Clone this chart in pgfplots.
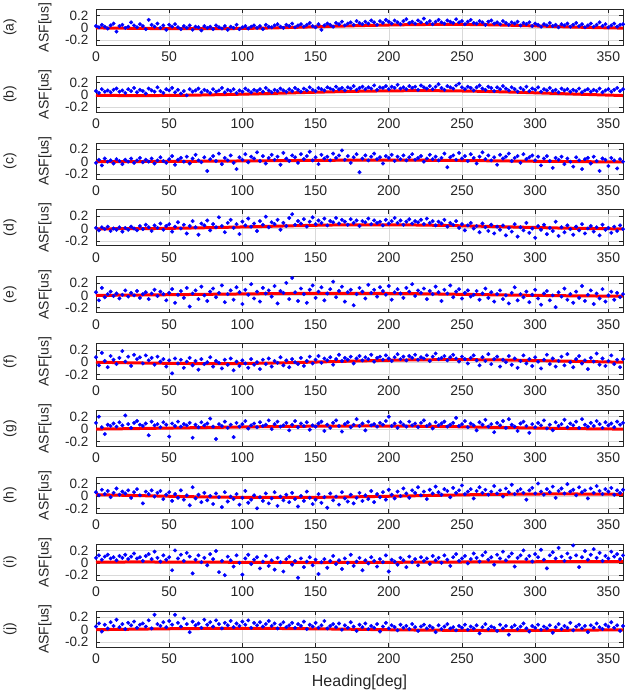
\documentclass[border=0pt]{standalone}
\usepackage{fontspec}
\setmainfont{Liberation Sans}
\usepackage{pgfplots}
\pgfplotsset{compat=1.18}
\pgfplotsset{
 panel/.style={
  scale only axis, width=527pt, height=36pt,
  xmin=0, xmax=360, ymin=-0.28, ymax=0.3,
  xtick={0,50,100,150,200,250,300,350},
  ytick={-0.2,0,0.2},
  grid=major, grid style={black!15, line width=0.5pt},
  tick align=inside, major tick length=4pt,
  axis line style={black!85, line width=0.8pt},
  every tick/.style={black!85, line width=0.6pt},
  /pgf/number format/assume math mode=true,
  ticklabel style={font=\fontsize{14}{16}\selectfont, text=black!85},
  yticklabel style={/pgf/number format/fixed, xshift=-4pt, inner ysep=0pt, font=\fontsize{13.5}{14}\selectfont},
  xticklabel style={yshift=-3pt},
  ylabel={ASF[us]},
  ylabel style={at={(axis description cs:-0.097,0.5)}, anchor=center, font=\fontsize{14}{16}\selectfont, text=black!85},
  extra description/.code={\node[rotate=90,font=\fontsize{14}{16}\selectfont,text=black!85] at (-0.163,0.5) {#1};}
 },
 dots/.style={only marks, mark=*, mark size=1.8pt, color=blue},
 fit/.style={red, line width=3pt, smooth}
}
\begin{document}
\begin{tikzpicture}
\useasboundingbox (0,0) rectangle (636pt,-696pt);
% (a)
\begin{axis}[panel={(a)}, at={(96pt,-45.3pt)}]
\addplot[dots] coordinates {(0,0.03)(2,0.01)(4,0.05)(6,0.02)(8,-0.01)(10,0.04)(12,0.07)(14,-0.06)(16,0.03)(18,0.05)(20,0.00)(22,0.02)(24,0.09)(26,0.04)(28,0.01)(30,0.06)(32,0.03)(34,-0.02)(36,0.13)(38,0.05)(40,0.02)(42,0.07)(44,0.00)(46,0.04)(48,-0.03)(50,0.05)(52,0.02)(54,0.06)(56,0.01)(58,-0.02)(60,0.03)(62,0.00)(64,0.04)(66,-0.03)(68,0.02)(70,0.01)(72,-0.04)(74,0.03)(76,0.00)(78,0.02)(80,-0.02)(82,0.04)(84,0.01)(86,-0.01)(88,0.03)(90,-0.03)(92,0.02)(94,0.00)(96,0.05)(98,-0.02)(100,0.01)(102,0.03)(104,-0.01)(106,0.02)(108,0.04)(110,0.00)(112,0.03)(114,-0.02)(116,0.05)(118,0.02)(120,0.01)(122,0.04)(124,0.06)(126,0.02)(128,0.00)(130,0.05)(132,0.03)(134,0.07)(136,0.01)(138,0.04)(140,0.06)(142,0.02)(144,0.05)(146,0.08)(148,0.03)(150,0.01)(152,0.06)(154,-0.03)(156,0.04)(158,0.07)(160,0.05)(162,0.02)(164,0.08)(166,0.06)(168,0.10)(170,0.04)(172,0.07)(174,0.09)(176,0.05)(178,0.11)(180,0.08)(182,0.06)(184,0.10)(186,0.07)(188,0.12)(190,0.09)(192,0.05)(194,0.11)(196,0.08)(198,0.13)(200,0.10)(202,0.07)(204,0.12)(206,0.09)(208,0.06)(210,0.11)(212,0.14)(214,0.08)(216,0.10)(218,0.07)(220,0.12)(222,0.09)(224,0.15)(226,0.08)(228,0.11)(230,0.06)(232,0.10)(234,0.13)(236,0.09)(238,0.07)(240,0.12)(242,0.10)(244,0.08)(246,0.14)(248,0.09)(250,0.11)(252,0.06)(254,0.10)(256,0.13)(258,0.08)(260,0.07)(262,0.11)(264,0.09)(266,0.05)(268,0.10)(270,0.12)(272,0.07)(274,0.09)(276,0.06)(278,0.11)(280,0.08)(282,0.05)(284,0.09)(286,0.07)(288,0.10)(290,0.04)(292,0.08)(294,0.06)(296,0.09)(298,0.03)(300,0.07)(302,0.05)(304,0.02)(306,0.06)(308,0.04)(310,0.08)(312,0.03)(314,0.05)(316,0.01)(318,0.06)(320,0.04)(322,0.07)(324,0.02)(326,0.05)(328,0.08)(330,0.03)(332,0.06)(334,0.01)(336,0.04)(338,0.07)(340,0.02)(342,0.05)(344,0.09)(346,0.03)(348,0.06)(350,0.01)(352,0.04)(354,0.07)(356,0.02)(358,0.05)(360,0.06)};
\addplot[fit] coordinates {(0,0.0)(20,-0.005)(40,-0.01)(60,-0.012)(80,-0.012)(100,-0.008)(120,0.0)(140,0.012)(160,0.025)(180,0.037)(200,0.047)(220,0.054)(240,0.057)(260,0.054)(280,0.045)(300,0.032)(320,0.018)(340,0.006)(360,-0.003)};
\end{axis}
% (b)
\begin{axis}[panel={(b)}, at={(96pt,-112.16pt)}]
\addplot[dots] coordinates {(0,0.06)(2,0.03)(4,0.09)(6,0.05)(8,0.07)(10,0.04)(12,0.08)(14,0.10)(16,0.05)(18,0.07)(20,0.03)(22,0.09)(24,0.06)(26,0.11)(28,0.04)(30,0.08)(32,0.06)(34,0.02)(36,0.10)(38,0.07)(40,0.05)(42,0.12)(44,0.06)(46,0.03)(48,0.09)(50,0.07)(52,0.11)(54,0.04)(56,0.08)(58,0.02)(60,0.06)(62,-0.01)(64,0.09)(66,0.05)(68,0.07)(70,0.10)(72,0.04)(74,0.08)(76,0.06)(78,0.03)(80,0.09)(82,0.05)(84,0.07)(86,0.11)(88,0.04)(90,0.08)(92,0.06)(94,0.09)(96,0.03)(98,0.07)(100,0.05)(102,0.10)(104,0.07)(106,0.04)(108,0.08)(110,0.06)(112,0.09)(114,0.05)(116,0.11)(118,0.07)(120,0.04)(122,0.08)(124,0.06)(126,0.10)(128,0.07)(130,0.05)(132,0.09)(134,0.06)(136,0.11)(138,0.08)(140,0.05)(142,0.10)(144,0.07)(146,0.12)(148,0.08)(150,0.06)(152,0.11)(154,0.09)(156,0.07)(158,0.12)(160,0.10)(162,0.08)(164,0.13)(166,0.09)(168,0.11)(170,0.07)(172,0.12)(174,0.10)(176,0.14)(178,0.08)(180,0.11)(182,0.13)(184,0.09)(186,0.12)(188,0.10)(190,0.15)(192,0.08)(194,0.12)(196,0.11)(198,0.14)(200,0.09)(202,0.13)(204,0.11)(206,0.16)(208,0.10)(210,0.12)(212,0.09)(214,0.14)(216,0.11)(218,0.13)(220,0.08)(222,0.15)(224,0.12)(226,0.10)(228,0.14)(230,0.09)(232,0.13)(234,0.17)(236,0.11)(238,0.08)(240,0.14)(242,0.12)(244,0.10)(246,0.15)(248,0.18)(250,0.12)(252,0.09)(254,0.13)(256,0.11)(258,0.07)(260,0.12)(262,0.15)(264,0.10)(266,0.08)(268,0.13)(270,0.11)(272,0.06)(274,0.12)(276,0.09)(278,0.14)(280,0.10)(282,0.07)(284,0.12)(286,0.09)(288,0.05)(290,0.11)(292,0.08)(294,0.13)(296,0.06)(298,0.10)(300,0.08)(302,0.12)(304,0.05)(306,0.09)(308,0.07)(310,0.11)(312,0.06)(314,0.08)(316,0.04)(318,0.10)(320,0.07)(322,0.09)(324,0.05)(326,0.08)(328,0.06)(330,0.10)(332,0.04)(334,0.07)(336,0.09)(338,0.05)(340,0.08)(342,0.06)(344,0.10)(346,0.04)(348,0.07)(350,0.09)(352,0.05)(354,0.08)(356,0.11)(358,0.06)(360,0.09)};
\addplot[fit] coordinates {(0,-0.01)(20,-0.012)(40,-0.012)(60,-0.008)(80,0.0)(100,0.01)(120,0.022)(140,0.035)(160,0.047)(180,0.057)(200,0.063)(220,0.066)(240,0.064)(260,0.057)(280,0.046)(300,0.032)(320,0.017)(340,0.002)(360,-0.012)};
\end{axis}
% (c)
\begin{axis}[panel={(c)}, at={(96pt,-179.02pt)}]
\addplot[dots] coordinates {(0,-0.02)(2,0.03)(4,-0.06)(6,0.05)(8,0.00)(10,0.02)(12,-0.03)(14,0.04)(16,0.01)(18,-0.04)(20,0.03)(22,0.00)(24,0.05)(26,-0.02)(28,0.02)(30,0.06)(32,-0.01)(34,0.03)(36,0.00)(38,0.05)(40,-0.03)(42,0.02)(44,0.07)(46,0.01)(48,-0.02)(50,0.04)(52,0.09)(54,-0.05)(56,0.03)(58,0.06)(60,0.00)(62,0.08)(64,-0.03)(66,0.05)(68,0.11)(70,0.02)(72,-0.01)(74,0.07)(76,-0.15)(78,0.04)(80,0.09)(82,0.01)(84,0.13)(86,-0.04)(88,0.06)(90,0.02)(92,0.10)(94,-0.02)(96,-0.12)(98,0.07)(100,0.03)(102,0.12)(104,-0.01)(106,0.08)(108,0.05)(110,0.15)(112,0.01)(114,0.09)(116,-0.03)(118,0.06)(120,0.11)(122,0.03)(124,0.08)(126,-0.05)(128,0.14)(130,0.05)(132,0.01)(134,0.10)(136,0.07)(138,-0.02)(140,0.12)(142,0.04)(144,0.09)(146,0.16)(148,0.02)(150,0.07)(152,-0.04)(154,0.11)(156,0.05)(158,0.08)(160,0.02)(162,0.13)(164,0.06)(166,0.10)(168,0.18)(170,0.03)(172,0.09)(174,-0.02)(176,0.07)(178,0.12)(180,-0.17)(182,0.05)(184,0.10)(186,0.02)(188,0.08)(190,0.13)(192,0.04)(194,0.07)(196,-0.03)(198,0.09)(200,0.06)(202,0.11)(204,0.01)(206,0.08)(208,0.04)(210,0.10)(212,0.02)(214,0.07)(216,0.12)(218,0.03)(220,0.06)(222,0.09)(224,0.00)(226,0.05)(228,0.11)(230,0.04)(232,0.08)(234,0.02)(236,0.06)(238,0.13)(240,-0.09)(242,0.07)(244,0.10)(246,0.03)(248,0.14)(250,0.05)(252,0.09)(254,0.01)(256,0.12)(258,0.06)(260,-0.03)(262,0.08)(264,0.15)(266,0.04)(268,0.10)(270,0.02)(272,0.07)(274,-0.05)(276,0.11)(278,0.05)(280,0.08)(282,0.13)(284,0.01)(286,0.06)(288,0.09)(290,-0.02)(292,0.12)(294,0.04)(296,0.07)(298,0.10)(300,0.02)(302,0.08)(304,-0.06)(306,0.05)(308,0.09)(310,0.01)(312,-0.10)(314,0.06)(316,0.03)(318,0.08)(320,-0.04)(322,0.05)(324,0.00)(326,-0.08)(328,0.07)(330,0.02)(332,-0.12)(334,0.04)(336,0.06)(338,-0.03)(340,0.08)(342,0.01)(344,-0.15)(346,0.05)(348,0.03)(350,-0.07)(352,0.06)(354,0.02)(356,-0.11)(358,0.04)(360,0.00)};
\addplot[fit] coordinates {(0,0.0)(20,0.001)(40,0.003)(60,0.005)(80,0.008)(100,0.011)(120,0.015)(140,0.019)(160,0.022)(180,0.024)(200,0.024)(220,0.023)(240,0.02)(260,0.016)(280,0.011)(300,0.006)(320,0.002)(340,-0.002)(360,-0.004)};
\end{axis}
% (d)
\begin{axis}[panel={(d)}, at={(96pt,-245.88pt)}]
\addplot[dots] coordinates {(0,0.01)(2,-0.03)(4,0.02)(6,-0.01)(8,0.03)(10,-0.04)(12,0.00)(14,-0.02)(16,0.02)(18,-0.05)(20,0.01)(22,-0.02)(24,0.03)(26,0.00)(28,-0.03)(30,0.04)(32,-0.01)(34,0.06)(36,0.02)(38,-0.04)(40,0.05)(42,0.01)(44,0.08)(46,-0.02)(48,0.04)(50,0.07)(52,-0.05)(54,0.03)(56,0.10)(58,0.00)(60,0.06)(62,-0.08)(64,0.04)(66,0.12)(68,0.02)(70,-0.10)(72,0.08)(74,0.05)(76,0.13)(78,-0.03)(80,0.07)(82,0.02)(84,0.18)(86,0.04)(88,-0.06)(90,0.09)(92,0.14)(94,0.01)(96,0.07)(98,-0.09)(100,0.11)(102,0.05)(104,0.16)(106,0.03)(108,0.08)(110,-0.04)(112,0.12)(114,0.06)(116,0.19)(118,0.02)(120,0.10)(122,0.07)(124,0.14)(126,-0.02)(128,0.09)(130,0.04)(132,0.17)(134,0.23)(136,0.06)(138,0.12)(140,0.08)(142,0.15)(144,0.03)(146,0.11)(148,0.18)(150,0.07)(152,0.13)(154,0.09)(156,0.16)(158,0.05)(160,0.12)(162,0.10)(164,0.17)(166,0.08)(168,0.14)(170,0.11)(172,0.06)(174,0.15)(176,0.09)(178,0.13)(180,0.04)(182,0.12)(184,0.10)(186,0.16)(188,0.07)(190,0.13)(192,0.09)(194,0.11)(196,0.05)(198,0.14)(200,0.08)(202,0.12)(204,0.17)(206,0.09)(208,0.13)(210,0.06)(212,0.11)(214,0.15)(216,0.08)(218,0.12)(220,0.10)(222,0.14)(224,0.07)(226,0.16)(228,0.09)(230,0.12)(232,0.05)(234,0.11)(236,0.08)(238,0.14)(240,0.03)(242,0.09)(244,0.06)(246,0.12)(248,0.01)(250,0.07)(252,-0.03)(254,0.05)(256,0.09)(258,0.00)(260,0.04)(262,-0.06)(264,0.08)(266,0.02)(268,-0.04)(270,0.06)(272,-0.08)(274,0.03)(276,-0.02)(278,0.05)(280,-0.11)(282,0.01)(284,-0.05)(286,0.07)(288,-0.13)(290,0.02)(292,-0.03)(294,0.09)(296,-0.07)(298,0.00)(300,-0.15)(302,0.04)(304,-0.02)(306,0.06)(308,-0.09)(310,0.01)(312,-0.04)(314,0.11)(316,-0.12)(318,0.02)(320,-0.06)(322,0.05)(324,-0.01)(326,-0.10)(328,0.03)(330,-0.03)(332,0.07)(334,-0.08)(336,0.00)(338,0.04)(340,-0.05)(342,0.02)(344,-0.11)(346,0.06)(348,-0.02)(350,0.01)(352,-0.07)(354,0.03)(356,-0.04)(358,0.05)(360,-0.01)};
\addplot[fit] coordinates {(0,-0.005)(20,-0.003)(40,0.0)(60,0.006)(80,0.015)(100,0.025)(120,0.036)(140,0.047)(160,0.056)(180,0.06)(200,0.06)(220,0.056)(240,0.048)(260,0.038)(280,0.027)(300,0.016)(320,0.006)(340,-0.001)(360,-0.006)};
\end{axis}
% (e)
\begin{axis}[panel={(e)}, at={(96pt,-312.74pt)}]
\addplot[dots] coordinates {(0,0.05)(2,-0.08)(4,0.12)(6,-0.03)(8,0.02)(10,0.06)(12,-0.01)(14,0.03)(16,-0.05)(18,0.01)(20,0.08)(22,-0.02)(24,0.04)(26,0.00)(28,0.07)(30,-0.04)(32,0.02)(34,0.05)(36,-0.06)(38,0.03)(40,0.09)(42,-0.01)(44,0.06)(46,0.02)(48,-0.08)(50,0.04)(52,0.10)(54,-0.12)(56,0.01)(58,0.07)(60,-0.04)(62,0.12)(64,-0.18)(66,0.03)(68,0.08)(70,-0.06)(72,0.14)(74,0.00)(76,-0.09)(78,0.06)(80,0.11)(82,-0.03)(84,0.04)(86,0.16)(88,-0.11)(90,0.02)(92,0.08)(94,-0.07)(96,0.13)(98,0.05)(100,-0.14)(102,0.09)(104,0.01)(106,0.18)(108,-0.05)(110,0.06)(112,-0.10)(114,0.12)(116,0.03)(118,0.08)(120,-0.02)(122,0.15)(124,-0.13)(126,0.07)(128,0.04)(130,0.20)(132,-0.06)(134,0.28)(136,0.05)(138,-0.09)(140,0.11)(142,0.02)(144,-0.12)(146,0.09)(148,0.16)(150,-0.04)(152,0.06)(154,0.13)(156,-0.08)(158,0.03)(160,0.10)(162,0.22)(164,-0.03)(166,0.07)(168,0.14)(170,-0.10)(172,0.05)(174,0.09)(176,-0.16)(178,0.02)(180,0.12)(182,0.06)(184,-0.05)(186,0.17)(188,0.04)(190,0.09)(192,-0.02)(194,0.13)(196,0.07)(198,0.01)(200,0.15)(202,-0.07)(204,0.05)(206,0.10)(208,0.03)(210,-0.04)(212,0.12)(214,0.06)(216,0.18)(218,-0.01)(220,0.08)(222,0.04)(224,0.11)(226,-0.06)(228,0.07)(230,0.02)(232,0.14)(234,0.05)(236,-0.09)(238,0.09)(240,0.03)(242,0.16)(244,-0.03)(246,0.06)(248,0.10)(250,-0.05)(252,0.04)(254,0.08)(256,-0.02)(258,0.01)(260,0.07)(262,-0.07)(264,0.03)(266,0.11)(268,-0.04)(270,0.05)(272,-0.10)(274,0.02)(276,0.08)(278,-0.06)(280,0.00)(282,-0.13)(284,0.04)(286,0.13)(288,-0.08)(290,0.02)(292,-0.03)(294,0.06)(296,-0.11)(298,0.01)(300,0.09)(302,-0.05)(304,-0.15)(306,0.03)(308,0.07)(310,-0.08)(312,0.00)(314,-0.19)(316,0.05)(318,-0.02)(320,0.11)(322,-0.07)(324,0.02)(326,-0.12)(328,0.06)(330,-0.04)(332,0.15)(334,-0.09)(336,0.01)(338,0.08)(340,-0.14)(342,0.03)(344,-0.05)(346,0.10)(348,-0.10)(350,0.00)(352,0.06)(354,-0.07)(356,0.04)(358,-0.03)(360,0.02)};
\addplot[fit] coordinates {(0,0.0)(20,0.003)(40,0.008)(60,0.013)(80,0.018)(100,0.023)(120,0.028)(140,0.031)(160,0.033)(180,0.033)(200,0.03)(220,0.026)(240,0.02)(260,0.013)(280,0.006)(300,0.0)(320,-0.006)(340,-0.01)(360,-0.013)};
\end{axis}
% (f)
\begin{axis}[panel={(f)}, at={(96pt,-379.6pt)}]
\addplot[dots] coordinates {(0,0.08)(2,-0.05)(4,0.15)(6,0.02)(8,-0.08)(10,0.10)(12,0.04)(14,-0.03)(16,0.07)(18,0.18)(20,0.01)(22,0.09)(24,-0.06)(26,0.12)(28,0.05)(30,0.08)(32,-0.02)(34,0.11)(36,0.03)(38,0.07)(40,-0.04)(42,0.09)(44,0.01)(46,0.05)(48,-0.07)(50,0.03)(52,-0.18)(54,0.06)(56,-0.02)(58,0.04)(60,-0.09)(62,0.01)(64,0.07)(66,-0.05)(68,0.02)(70,-0.12)(72,0.05)(74,-0.03)(76,0.00)(78,0.08)(80,-0.07)(82,0.02)(84,-0.01)(86,-0.10)(88,0.04)(90,-0.04)(92,0.06)(94,-0.13)(96,0.01)(98,-0.06)(100,0.03)(102,-0.02)(104,-0.09)(106,0.05)(108,-0.04)(110,0.00)(112,-0.11)(114,0.04)(116,-0.03)(118,0.06)(120,-0.07)(122,0.02)(124,-0.01)(126,0.08)(128,-0.05)(130,0.03)(132,-0.08)(134,0.05)(136,0.00)(138,-0.03)(140,0.07)(142,-0.06)(144,0.02)(146,0.09)(148,-0.02)(150,0.04)(152,0.10)(154,-0.01)(156,0.06)(158,0.03)(160,0.08)(162,-0.04)(164,0.05)(166,0.12)(168,0.02)(170,0.07)(172,0.04)(174,0.09)(176,-0.02)(178,0.06)(180,0.10)(182,0.03)(184,0.08)(186,0.05)(188,0.12)(190,0.01)(192,0.07)(194,0.09)(196,0.04)(198,0.11)(200,0.06)(202,0.02)(204,0.08)(206,0.13)(208,0.05)(210,0.09)(212,0.03)(214,0.10)(216,0.07)(218,0.12)(220,0.04)(222,0.08)(224,0.06)(226,0.11)(228,0.02)(230,0.09)(232,0.14)(234,0.05)(236,0.07)(238,0.10)(240,0.03)(242,0.08)(244,0.12)(246,0.06)(248,0.01)(250,0.09)(252,0.05)(254,-0.02)(256,0.07)(258,0.11)(260,0.03)(262,-0.05)(264,0.08)(266,0.02)(268,0.13)(270,-0.03)(272,0.05)(274,0.09)(276,-0.07)(278,0.04)(280,0.00)(282,0.10)(284,-0.04)(286,0.06)(288,-0.09)(290,0.02)(292,0.11)(294,-0.02)(296,0.05)(298,-0.06)(300,0.08)(302,0.01)(304,-0.10)(306,0.04)(308,0.12)(310,-0.03)(312,0.06)(314,-0.07)(316,0.02)(318,0.09)(320,-0.05)(322,0.13)(324,0.00)(326,-0.08)(328,0.05)(330,0.10)(332,-0.02)(334,0.03)(336,-0.11)(338,0.07)(340,0.01)(342,0.14)(344,-0.04)(346,0.06)(348,-0.06)(350,0.02)(352,0.11)(354,-0.03)(356,0.04)(358,-0.08)(360,0.05)};
\addplot[fit] coordinates {(0,0.0)(20,-0.008)(40,-0.015)(60,-0.02)(80,-0.022)(100,-0.02)(120,-0.013)(140,-0.003)(160,0.009)(180,0.021)(200,0.031)(220,0.038)(240,0.041)(260,0.04)(280,0.035)(300,0.027)(320,0.018)(340,0.009)(360,0.0)};
\end{axis}
% (g)
\begin{axis}[panel={(g)}, at={(96pt,-446.46pt)}]
\addplot[dots] coordinates {(0,0.10)(2,0.20)(4,0.03)(6,-0.08)(8,0.07)(10,0.05)(12,0.09)(14,0.04)(16,0.11)(18,0.06)(20,0.22)(22,0.08)(24,0.02)(26,0.10)(28,0.13)(30,0.07)(32,0.05)(34,0.09)(36,-0.10)(38,0.12)(40,0.06)(42,0.08)(44,0.03)(46,0.11)(48,0.07)(50,-0.12)(52,0.09)(54,0.05)(56,0.12)(58,0.04)(60,0.08)(62,0.06)(64,0.10)(66,-0.14)(68,0.07)(70,0.03)(72,0.11)(74,0.06)(76,0.09)(78,0.17)(80,0.04)(82,-0.16)(84,0.08)(86,0.05)(88,0.12)(90,0.02)(92,0.07)(94,-0.13)(96,0.10)(98,0.04)(100,0.08)(102,0.13)(104,0.01)(106,0.06)(108,0.09)(110,0.03)(112,0.11)(114,0.05)(116,0.07)(118,0.14)(120,0.00)(122,0.08)(124,0.12)(126,0.04)(128,0.06)(130,0.10)(132,-0.02)(134,0.07)(136,0.13)(138,0.03)(140,0.09)(142,0.05)(144,0.11)(146,-0.01)(148,0.06)(150,0.04)(152,0.09)(154,0.12)(156,-0.03)(158,0.07)(160,0.02)(162,0.10)(164,0.14)(166,0.05)(168,-0.04)(170,0.08)(172,0.11)(174,0.03)(176,0.07)(178,0.16)(180,0.05)(182,0.09)(184,-0.02)(186,0.12)(188,0.06)(190,0.08)(192,0.04)(194,0.10)(196,0.07)(198,0.13)(200,0.20)(202,0.05)(204,0.09)(206,0.02)(208,0.11)(210,0.07)(212,0.04)(214,0.12)(216,0.06)(218,0.09)(220,0.03)(222,0.10)(224,0.14)(226,0.05)(228,0.08)(230,0.01)(232,0.11)(234,0.06)(236,0.09)(238,0.12)(240,0.04)(242,0.07)(244,0.10)(246,0.18)(248,0.05)(250,0.08)(252,0.13)(254,0.03)(256,0.09)(258,0.06)(260,-0.02)(262,0.11)(264,0.07)(266,0.15)(268,0.04)(270,0.08)(272,-0.05)(274,0.10)(276,0.06)(278,0.13)(280,0.02)(282,0.16)(284,0.07)(286,0.04)(288,-0.03)(290,0.09)(292,0.12)(294,0.05)(296,-0.06)(298,0.08)(300,0.03)(302,0.10)(304,0.06)(306,0.14)(308,0.01)(310,0.07)(312,-0.02)(314,0.11)(316,0.05)(318,0.08)(320,0.15)(322,0.03)(324,0.09)(326,0.06)(328,0.12)(330,0.02)(332,0.16)(334,0.07)(336,0.04)(338,0.10)(340,0.05)(342,0.13)(344,0.08)(346,0.02)(348,0.11)(350,0.06)(352,0.09)(354,0.03)(356,0.12)(358,0.07)(360,0.10)};
\addplot[fit] coordinates {(0,0.0)(20,0.006)(40,0.013)(60,0.02)(80,0.027)(100,0.034)(120,0.04)(140,0.045)(160,0.048)(180,0.05)(200,0.049)(220,0.046)(240,0.04)(260,0.033)(280,0.025)(300,0.017)(320,0.01)(340,0.004)(360,0.0)};
\end{axis}
% (h)
\begin{axis}[panel={(h)}, at={(96pt,-513.32pt)}]
\addplot[dots] coordinates {(0,0.06)(2,0.01)(4,0.10)(6,0.03)(8,0.08)(10,-0.02)(12,0.05)(14,0.12)(16,0.02)(18,0.07)(20,0.04)(22,0.09)(24,-0.03)(26,0.06)(28,0.11)(30,0.01)(32,-0.12)(34,0.07)(36,0.03)(38,0.09)(40,-0.01)(42,0.05)(44,0.08)(46,-0.05)(48,0.02)(50,0.06)(52,-0.08)(54,0.03)(56,-0.03)(58,0.09)(60,-0.06)(62,0.01)(64,-0.15)(66,0.14)(68,-0.04)(70,0.02)(72,-0.10)(74,0.05)(76,-0.07)(78,0.00)(80,-0.13)(82,0.04)(84,-0.02)(86,-0.18)(88,0.06)(90,-0.09)(92,-0.01)(94,-0.05)(96,0.03)(98,-0.14)(100,-0.03)(102,0.08)(104,-0.11)(106,-0.06)(108,0.01)(110,-0.20)(112,-0.02)(114,-0.08)(116,0.04)(118,-0.12)(120,-0.04)(122,0.06)(124,-0.16)(126,-0.01)(128,-0.07)(130,0.02)(132,-0.10)(134,0.05)(136,-0.05)(138,-0.17)(140,0.00)(142,-0.08)(144,0.07)(146,-0.03)(148,-0.13)(150,-0.06)(152,0.03)(154,-0.11)(156,-0.02)(158,-0.19)(160,0.04)(162,-0.07)(164,-0.01)(166,-0.14)(168,0.06)(170,-0.04)(172,-0.09)(174,0.02)(176,-0.12)(178,-0.03)(180,0.05)(182,-0.08)(184,0.01)(186,-0.05)(188,0.08)(190,-0.10)(192,0.03)(194,-0.02)(196,0.06)(198,-0.06)(200,0.10)(202,0.02)(204,-0.04)(206,0.07)(208,0.00)(210,0.12)(212,0.04)(214,-0.03)(216,0.09)(218,0.05)(220,0.14)(222,0.01)(224,0.07)(226,-0.05)(228,0.10)(230,0.04)(232,0.15)(234,0.06)(236,0.02)(238,0.11)(240,0.08)(242,-0.02)(244,0.13)(246,0.05)(248,0.09)(250,0.17)(252,0.03)(254,0.07)(256,0.11)(258,-0.04)(260,0.08)(262,0.14)(264,0.05)(266,0.10)(268,0.02)(270,0.07)(272,0.16)(274,0.04)(276,0.09)(278,-0.01)(280,0.12)(282,0.06)(284,0.18)(286,0.03)(288,0.08)(290,0.11)(292,0.05)(294,-0.06)(296,0.09)(298,0.13)(300,0.04)(302,0.20)(304,0.07)(306,0.02)(308,0.11)(310,0.06)(312,0.15)(314,-0.03)(316,0.08)(318,0.12)(320,0.04)(322,0.19)(324,0.07)(326,0.10)(328,0.01)(330,0.14)(332,0.06)(334,0.09)(336,-0.04)(338,0.12)(340,0.05)(342,0.16)(344,0.08)(346,0.03)(348,0.11)(350,0.07)(352,0.13)(354,0.02)(356,0.09)(358,0.05)(360,0.10)};
\addplot[fit] coordinates {(0,0.02)(20,0.01)(40,0.0)(60,-0.01)(80,-0.018)(100,-0.023)(120,-0.025)(140,-0.024)(160,-0.02)(180,-0.013)(200,-0.005)(220,0.004)(240,0.013)(260,0.021)(280,0.027)(300,0.031)(320,0.032)(340,0.03)(360,0.026)};
\end{axis}
% (i)
\begin{axis}[panel={(i)}, at={(96pt,-580.18pt)}]
\addplot[dots] coordinates {(0,0.08)(2,0.12)(4,0.05)(6,0.10)(8,0.13)(10,0.07)(12,0.09)(14,0.04)(16,0.11)(18,0.08)(20,0.13)(22,0.06)(24,0.10)(26,0.15)(28,0.07)(30,0.09)(32,0.03)(34,0.11)(36,0.14)(38,0.06)(40,0.18)(42,0.08)(44,0.02)(46,0.12)(48,0.05)(50,0.09)(52,-0.12)(54,0.20)(56,0.07)(58,0.13)(60,0.03)(62,0.16)(64,0.10)(66,-0.17)(68,0.05)(70,0.12)(72,0.01)(74,0.08)(76,-0.04)(78,0.14)(80,0.06)(82,0.19)(84,-0.15)(86,0.03)(88,-0.20)(90,0.10)(92,0.04)(94,-0.06)(96,0.12)(98,0.00)(100,-0.19)(102,0.07)(104,0.13)(106,-0.02)(108,0.05)(110,0.09)(112,-0.09)(114,0.02)(116,0.11)(118,-0.05)(120,0.04)(122,-0.11)(124,0.08)(126,0.01)(128,-0.14)(130,0.06)(132,0.10)(134,-0.03)(136,0.03)(138,-0.24)(140,0.07)(142,-0.07)(144,0.02)(146,0.09)(148,-0.04)(150,0.05)(152,-0.18)(154,0.01)(156,0.06)(158,-0.08)(160,0.03)(162,0.11)(164,-0.02)(166,0.04)(168,-0.10)(170,0.07)(172,0.00)(174,0.13)(176,-0.05)(178,0.02)(180,0.08)(182,-0.12)(184,0.04)(186,-0.01)(188,0.09)(190,0.03)(192,-0.06)(194,0.06)(196,0.01)(198,0.12)(200,-0.14)(202,0.05)(204,0.02)(206,-0.03)(208,0.08)(210,0.04)(212,-0.07)(214,0.10)(216,0.01)(218,0.06)(220,-0.04)(222,0.09)(224,0.03)(226,0.07)(228,-0.02)(230,0.11)(232,0.04)(234,0.08)(236,0.00)(238,0.12)(240,0.05)(242,-0.05)(244,0.09)(246,0.14)(248,0.03)(250,0.07)(252,0.11)(254,-0.01)(256,0.06)(258,0.15)(260,0.08)(262,0.02)(264,0.12)(266,0.17)(268,0.05)(270,0.09)(272,-0.03)(274,0.13)(276,0.07)(278,0.18)(280,0.04)(282,0.10)(284,0.15)(286,-0.06)(288,0.08)(290,0.12)(292,0.20)(294,0.06)(296,0.11)(298,0.02)(300,0.14)(302,0.09)(304,0.21)(306,0.05)(308,-0.09)(310,0.12)(312,0.17)(314,0.07)(316,0.24)(318,0.10)(320,0.03)(322,0.15)(324,0.08)(326,0.28)(328,0.12)(330,-0.07)(332,0.09)(334,0.19)(336,0.05)(338,0.13)(340,0.22)(342,0.08)(344,0.16)(346,0.03)(348,0.11)(350,0.07)(352,0.18)(354,0.10)(356,0.14)(358,0.06)(360,0.12)};
\addplot[fit] coordinates {(0,0.012)(20,0.013)(40,0.013)(60,0.012)(80,0.01)(100,0.008)(120,0.006)(140,0.005)(160,0.005)(180,0.006)(200,0.008)(220,0.01)(240,0.012)(260,0.014)(280,0.016)(300,0.017)(320,0.018)(340,0.018)(360,0.018)};
\end{axis}
% (j)
\begin{axis}[panel={(j)}, at={(96pt,-647.04pt)}, xlabel={Heading[deg]}, xlabel style={font=\fontsize{16}{18}\selectfont, text=black!85, yshift=-5pt}]
\addplot[dots] coordinates {(0,0.05)(2,0.10)(4,-0.03)(6,0.08)(8,0.02)(10,0.12)(12,0.06)(14,0.16)(16,0.04)(18,0.09)(20,0.01)(22,0.11)(24,0.07)(26,0.13)(28,0.03)(30,0.08)(32,0.10)(34,0.05)(36,0.15)(38,0.02)(40,0.24)(42,0.09)(44,0.06)(46,0.12)(48,0.04)(50,0.14)(52,0.08)(54,0.24)(56,0.11)(58,0.05)(60,0.18)(62,0.09)(64,-0.04)(66,0.13)(68,0.07)(70,0.10)(72,0.03)(74,0.16)(76,0.08)(78,0.12)(80,0.05)(82,0.15)(84,0.09)(86,0.02)(88,0.11)(90,0.07)(92,0.14)(94,0.04)(96,0.10)(98,0.06)(100,0.13)(102,0.08)(104,0.15)(106,0.03)(108,0.11)(110,0.07)(112,0.12)(114,0.05)(116,0.09)(118,0.14)(120,0.06)(122,0.10)(124,0.02)(126,0.08)(128,0.12)(130,0.04)(132,0.07)(134,0.11)(136,0.03)(138,0.09)(140,0.06)(142,0.13)(144,0.01)(146,0.08)(148,0.05)(150,0.11)(152,0.03)(154,0.07)(156,0.14)(158,0.02)(160,0.06)(162,0.09)(164,0.04)(166,0.10)(168,0.00)(170,0.07)(172,0.03)(174,0.12)(176,0.05)(178,-0.02)(180,0.08)(182,0.04)(184,0.10)(186,0.01)(188,0.06)(190,0.03)(192,0.09)(194,-0.03)(196,0.05)(198,0.11)(200,0.02)(202,0.07)(204,0.04)(206,-0.01)(208,0.08)(210,0.03)(212,0.06)(214,0.01)(216,0.09)(218,0.04)(220,-0.02)(222,0.05)(224,0.08)(226,0.02)(228,0.06)(230,0.03)(232,-0.04)(234,0.07)(236,0.01)(238,0.05)(240,0.09)(242,0.02)(244,0.04)(246,-0.01)(248,0.06)(250,0.03)(252,0.08)(254,0.00)(256,0.05)(258,0.02)(260,0.07)(262,-0.06)(264,0.04)(266,0.09)(268,0.01)(270,0.05)(272,0.03)(274,-0.02)(276,0.08)(278,0.02)(280,0.06)(282,-0.08)(284,0.04)(286,0.07)(288,0.01)(290,0.05)(292,0.10)(294,0.02)(296,-0.03)(298,0.06)(300,0.03)(302,0.08)(304,0.00)(306,0.05)(308,0.02)(310,0.07)(312,-0.05)(314,0.04)(316,0.09)(318,0.01)(320,0.06)(322,0.03)(324,0.11)(326,-0.01)(328,0.05)(330,0.08)(332,0.02)(334,0.06)(336,-0.04)(338,0.07)(340,0.03)(342,0.10)(344,0.04)(346,0.01)(348,0.08)(350,0.05)(352,0.12)(354,0.03)(356,0.07)(358,-0.02)(360,0.06)};
\addplot[fit] coordinates {(0,0.0)(20,0.006)(40,0.012)(60,0.017)(80,0.02)(100,0.021)(120,0.02)(140,0.016)(160,0.011)(180,0.005)(200,-0.001)(220,-0.006)(240,-0.01)(260,-0.013)(280,-0.014)(300,-0.013)(320,-0.01)(340,-0.006)(360,-0.002)};
\end{axis}
\end{tikzpicture}
\end{document}
